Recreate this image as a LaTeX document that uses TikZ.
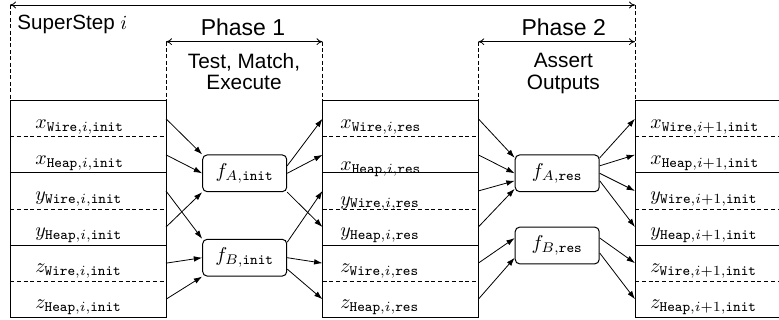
\documentclass[tikz,border=0pt]{standalone}
\usepackage{fontspec}
\setsansfont{Liberation Sans}
\usetikzlibrary{arrows.meta}
\begin{document}
\begin{tikzpicture}[x=0.5pt,y=-0.5pt,
  box/.style={line width=0.5pt},
  sep/.style={line width=0.5pt, dash pattern=on 2pt off 1.4pt},
  guide/.style={line width=0.4pt, dash pattern=on 2pt off 1.2pt},
  span/.style={line width=0.4pt, {To[length=3pt,width=3.4pt]}-{To[length=3pt,width=3.4pt]}},
  flow/.style={line width=0.4pt, -{Latex[length=4.2pt,width=2.8pt]}},
  fn/.style={draw, line width=0.5pt, rounded corners=2.2pt, minimum width=42pt,
    minimum height=18.35pt, inner sep=0pt, font=\fontsize{10.25}{12}\selectfont},
  row/.style={minimum height=18.05pt, inner sep=0pt, outer sep=0pt},
  lab/.style={anchor=base west, inner sep=0pt, font=\fontsize{10.25}{12}\selectfont},
  head/.style={anchor=base, inner sep=0pt, font=\sffamily\fontsize{10.4}{12}\selectfont},
  phase/.style={anchor=base, inner sep=0pt, font=\sffamily\fontsize{11.5}{13}\selectfont},
]
\clip (0,0) rectangle (779,320);

% rows of the three columns
\foreach \n/\y in {1/118.75, 2/154.85, 3/190.95, 4/227.05, 5/263.15, 6/299.25} {
  \node[row, minimum width=78pt] (L\n) at (88,\y) {};
  \node[row, minimum width=77.9pt] (M\n) at (400.4,\y) {};
  \node[row, minimum width=100pt] (R\n) at (735,\y) {};
}
\foreach \c in {L,M,R} {
  \draw[box] (\c1.north west) rectangle (\c6.south east);
  \draw[sep] (\c1.south west) -- (\c1.south east);
  \draw[box] (\c2.south west) -- (\c2.south east);
  \draw[sep] (\c3.south west) -- (\c3.south east);
  \draw[box] (\c4.south west) -- (\c4.south east);
  \draw[sep] (\c5.south west) -- (\c5.south east);
}

% labels, left column
\node[lab] (tL1) at (35,128.3) {$x_{\mathtt{Wire},i,\mathtt{init}}$};
\node[lab] (tL2) at (35,164.4) {$x_{\mathtt{Heap},i,\mathtt{init}}$};
\node[lab] (tL3) at (35,200.5) {$y_{\mathtt{Wire},i,\mathtt{init}}$};
\node[lab] (tL4) at (35,236.6) {$y_{\mathtt{Heap},i,\mathtt{init}}$};
\node[lab] (tL5) at (35,272.7) {$z_{\mathtt{Wire},i,\mathtt{init}}$};
\node[lab] (tL6) at (35,308.8) {$z_{\mathtt{Heap},i,\mathtt{init}}$};
% labels, middle column
\node[lab] (tM1) at (340,128.3) {$x_{\mathtt{Wire},i,\mathtt{res}}$};
\node[lab] (tM2) at (340,170) {$x_{\mathtt{Heap},i,\mathtt{res}}$};
\node[lab] (tM3) at (340,205) {$y_{\mathtt{Wire},i,\mathtt{res}}$};
\node[lab] (tM4) at (340,236.6) {$y_{\mathtt{Heap},i,\mathtt{res}}$};
\node[lab] (tM5) at (340,272.7) {$z_{\mathtt{Wire},i,\mathtt{res}}$};
\node[lab] (tM6) at (340,308.8) {$z_{\mathtt{Heap},i,\mathtt{res}}$};
% labels, right column
\node[lab] (tR1) at (650,128.3) {$x_{\mathtt{Wire},i+1,\mathtt{init}}$};
\node[lab] (tR2) at (650,164.4) {$x_{\mathtt{Heap},i+1,\mathtt{init}}$};
\node[lab] (tR3) at (650,200.5) {$y_{\mathtt{Wire},i+1,\mathtt{init}}$};
\node[lab] (tR4) at (650,236.6) {$y_{\mathtt{Heap},i+1,\mathtt{init}}$};
\node[lab] (tR5) at (650,272.7) {$z_{\mathtt{Wire},i+1,\mathtt{init}}$};
\node[lab] (tR6) at (650,308.8) {$z_{\mathtt{Heap},i+1,\mathtt{init}}$};

% functions
\node[fn] (fAi) at (244.7,173.3) {$f_{A,\mathtt{init}}$};
\node[fn] (fBi) at (244.7,257.7) {$f_{B,\mathtt{init}}$};
\node[fn] (fAr) at (557.2,173.3) {$f_{A,\mathtt{res}}$};
\node[fn] (fBr) at (557.2,245.5) {$f_{B,\mathtt{res}}$};

% phase 1 connectors
\draw[flow] (L1.east) -- (fAi.north west);
\draw[flow] (L2.east) -- (fAi.west);
\draw[flow] (L3.east) -- (fBi.north west);
\draw[flow] (L4.east) -- (fAi.south west);
\draw[flow] (L5.east) -- (fBi.west);
\draw[flow] (L6.east) -- (fBi.south west);
\draw[flow] (fAi.10) -- (M1.west);
\draw[flow] (fAi.east) -- (M2.west);
\draw[flow] (fAi.south east) -- (M4.west);
\draw[flow] (fBi.20) -- (M3.west);
\draw[flow] (fBi.east) -- (M5.west);
\draw[flow] (fBi.-15) -- (M6.west);

% phase 2 connectors
\draw[flow] (M1.east) -- (fAr.160);
\draw[flow] (M2.east) -- (fAr.west);
\draw[flow] (M3.east) -- (fAr.190);
\draw[flow] (M4.east) -- (fAr.200);
\draw[flow] (M5.east) -- (fBr.170);
\draw[flow] (M6.east) -- (fBr.196);
\draw[flow] (fAr.20) -- (R1.west);
\draw[flow] (fAr.10) -- (R2.west);
\draw[flow] (fAr.east) -- (R3.west);
\draw[flow] (fAr.-10) -- (R4.west);
\draw[flow] (fBr.10) -- (R5.west);
\draw[flow] (fBr.-10) -- (R6.west);

% header spans
\coordinate (ssL) at (10,5);
\coordinate (ssR) at (635,5);
\coordinate (p1L) at (166,41.7);
\coordinate (p1R) at (322.5,41.7);
\coordinate (p2L) at (478.3,41.7);
\coordinate (p2R) at (635,41.7);
\draw[span] (ssL) -- (ssR);
\draw[guide] (ssL) -- (L1.north west);
\draw[guide] (ssR) -- (R1.north west);
\draw[span] (p1L) -- (p1R);
\draw[guide] (p1L) -- (L1.north east);
\draw[guide] (p1R) -- (M1.north west);
\draw[span] (p2L) -- (p2R);
\draw[guide] (p2L) -- (M1.north east);

\node[anchor=base west, inner sep=0pt, font=\sffamily\fontsize{10.3}{12}\selectfont] (ss) at (17,29.3) {SuperStep $i$};
\node[phase] (ph1) at (243,35.5) {Phase 1};
\node[head] (d1a) at (244,68.3) {Test, Match,};
\node[head] (d1b) at (244,89.3) {Execute};
\node[phase] (ph2) at (563.7,35.5) {Phase 2};
\node[head] (d2a) at (563.3,67.7) {Assert};
\node[head] (d2b) at (563.3,89.3) {Outputs};
\end{tikzpicture}
\end{document}
